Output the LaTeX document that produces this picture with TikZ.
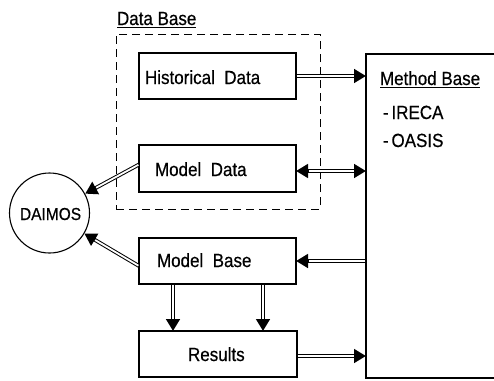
\documentclass[tikz,border=0pt]{standalone}
\usepackage{fontspec}
\setmainfont{Liberation Sans}
\newfontfamily\plotfont[FakeBold=0.6]{Liberation Sans}
\usetikzlibrary{arrows.meta,calc}
\newcommand{\tall}[1]{\scalebox{1}[1.12]{#1}}
\begin{document}
\begin{tikzpicture}[x=1pt,y=-1pt,
  box/.style={draw, line width=1.3pt, rectangle, inner sep=0pt, outer sep=0pt},
  lbl/.style={inner sep=0pt, outer sep=0pt, font=\plotfont\fontsize{17}{20}\selectfont},
  tip/.tip={Triangle[length=12pt 0 0,width=13.5pt 0 0]},
  dbl/.style={draw, line width=3.8pt, -tip,
    postaction={draw, white, line width=1.8pt, -, shorten >=12.5pt, shorten <=0.7pt}},
  dblb/.style={draw, line width=3.8pt, tip-tip,
    postaction={draw, white, line width=1.8pt, -, shorten >=12.5pt, shorten <=12.5pt}}]
\useasboundingbox (0,0) rectangle (494,380);
% data base dashed frame
\node[draw, line width=1pt, dash pattern=on 8pt off 5pt, inner sep=0pt, minimum width=204pt, minimum height=175pt] (dbf) at (218,121.5) {};
\node[lbl, anchor=base west] (dbl) at (117,25) {\tall{Data Base}};
\draw[line width=1pt] ([yshift=-2pt]dbl.base west) -- ([yshift=-2pt]dbl.base east);
% boxes
\node[box, minimum width=157pt, minimum height=46pt] (hd) at (217.5,76) {};
\node[box, minimum width=157pt, minimum height=47pt] (md) at (217.5,168.5) {};
\node[box, minimum width=157pt, minimum height=46pt] (mb) at (217.5,261) {};
\node[box, minimum width=158pt, minimum height=46pt] (res) at (218,354) {};
\node[box, minimum width=150pt, minimum height=324pt] (meth) at (441,216) {};
\node[draw, circle, line width=1.1pt, minimum size=80pt, inner sep=0pt] (dai) at (49.5,213) {};
% labels
\node[lbl, anchor=base west] (thd) at (145,84) {\tall{Historical\ \ Data}};
\node[lbl, anchor=base west] (tmd) at (155,176) {\tall{Model\ \ Data}};
\node[lbl, anchor=base west] (tmb) at (157,267) {\tall{Model\ \ Base}};
\node[lbl, anchor=base west] (tres) at (188,361) {\tall{Results}};
\node[lbl, anchor=base west, font=\plotfont\fontsize{15.5}{18}\selectfont] (tdai) at (20,220) {\tall{DAIMOS}};
\node[lbl, anchor=base west] (tmeth) at (380,85) {\tall{Method Base}};
\draw[line width=1pt] ([yshift=-2.3pt]tmeth.base west) -- ([yshift=-2.3pt]tmeth.base east);
\node[lbl, anchor=base west] (tir) at (383,119) {\tall{-\,IRECA}};
\node[lbl, anchor=base west] (toa) at (383,147) {\tall{-\,OASIS}};
% connector end points
\coordinate (mde) at ([yshift=-2.5pt]md.east);
\coordinate (rese) at ([yshift=-2pt]res.east);
\coordinate (mdw) at ([yshift=4pt]md.west);
\coordinate (mbw) at ([yshift=-5pt]mb.west);
\coordinate (mbs1) at ([xshift=34pt]mb.south west);
\coordinate (mbs2) at ([xshift=124pt]mb.south west);
\coordinate (ren1) at ([xshift=34pt]res.north west);
\coordinate (ren2) at ([xshift=124pt]res.north west);
% connectors
\draw[dbl] (hd.east) -- (meth.west |- hd.east);
\draw[dblb] (mde) -- (meth.west |- mde);
\draw[dbl] (meth.west |- mb.east) -- (mb.east);
\draw[dbl] (rese) -- (meth.west |- rese);
\draw[dbl] (mdw) -- (dai);
\draw[dbl] (mbw) -- (dai);
\draw[dbl] (mbs1) -- (ren1);
\draw[dbl] (mbs2) -- (ren2);
\end{tikzpicture}
\end{document}
